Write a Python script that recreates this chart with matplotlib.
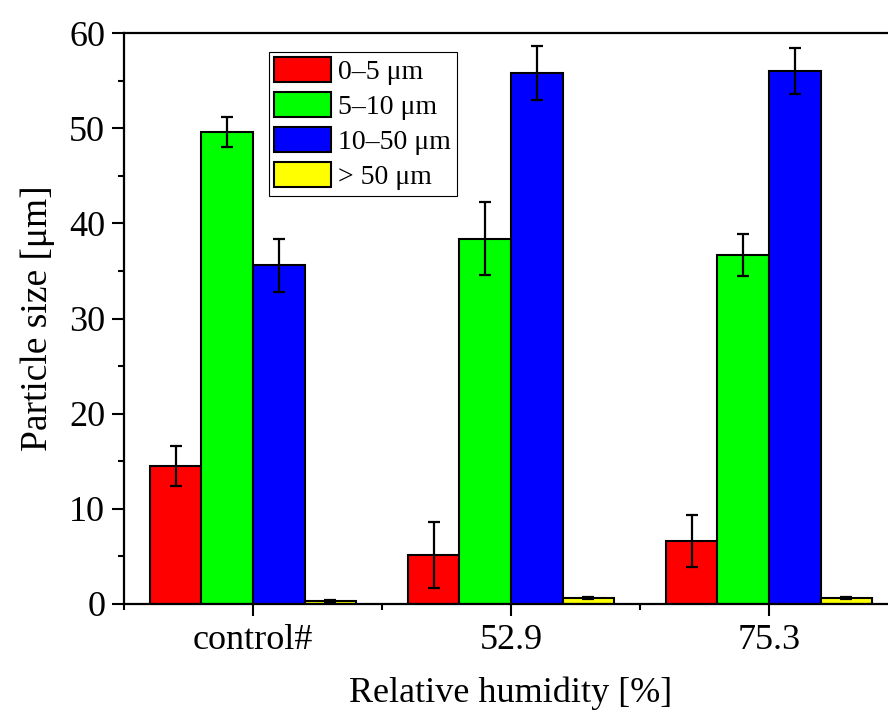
import numpy as np
import matplotlib
matplotlib.use("Agg")
import matplotlib.pyplot as plt
from matplotlib.ticker import MultipleLocator, FixedLocator

plt.rcParams['font.family'] = ['Liberation Serif', 'DejaVu Serif']

groups = ["control#", "52.9", "75.3"]
labels = ["0\u20135 \u03bcm", "5\u201310 \u03bcm", "10\u201350 \u03bcm", "> 50 \u03bcm"]
colors = ["#ff0000", "#00ff00", "#0000ff", "#ffff00"]

# rows: size class, cols: humidity group
means = [
    [14.5, 5.15, 6.6],
    [49.6, 38.4, 36.7],
    [35.6, 55.8, 56.0],
    [0.3, 0.6, 0.6],
]
errs = [
    [2.1, 3.5, 2.7],
    [1.6, 3.8, 2.2],
    [2.8, 2.85, 2.4],
    [0.1, 0.1, 0.1],
]

fig = plt.figure(figsize=(8.88, 7.16), dpi=100)
ax = fig.add_axes([124 / 888, 112 / 716, 774 / 888, 571 / 716])

x = np.arange(1, len(groups) + 1)
w = 0.2
for i in range(4):
    ax.bar(x + (i - 1.5) * w, means[i], w, color=colors[i], edgecolor="black",
           linewidth=1.5, label=labels[i], zorder=2)
    ax.errorbar(x + (i - 1.5) * w, means[i], yerr=errs[i], fmt="none",
                ecolor="black", elinewidth=1.6, capsize=4.5, capthick=1.6, zorder=3)

ax.set_xlim(0.5, 3.5)
ax.set_ylim(0, 60)
ax.set_xticks(x)
ax.set_xticklabels(groups)
ax.xaxis.set_minor_locator(FixedLocator([0.5, 1.5, 2.5, 3.5]))
ax.yaxis.set_major_locator(MultipleLocator(10))
ax.yaxis.set_minor_locator(MultipleLocator(5))

for s in ax.spines.values():
    s.set_linewidth(1.6)
ax.tick_params(which="major", direction="out", length=8.5, width=1.5, labelsize=26)
ax.tick_params(which="minor", direction="out", length=4.5, width=1.5)
ax.tick_params(axis="x", pad=6)
ax.tick_params(axis="y", pad=5)

ax.set_xlabel("Relative humidity [%]", fontsize=26, labelpad=14)
ax.set_ylabel("Particle size [\u03bcm]", fontsize=27, labelpad=10)

leg = ax.legend(loc="upper left", bbox_to_anchor=(0.187, 0.967), fontsize=20,
                handlelength=2.05, handleheight=1.0, handletextpad=0.25,
                labelspacing=0.25, borderpad=0.2, borderaxespad=0,
                fancybox=False, framealpha=1)
leg.get_frame().set_edgecolor("black")
leg.get_frame().set_linewidth(0.8)

fig.savefig("out.png", dpi=100)
